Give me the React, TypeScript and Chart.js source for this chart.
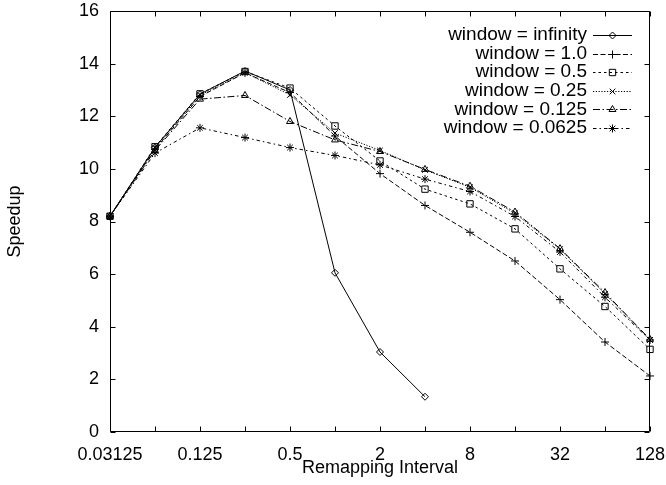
import React, { useEffect, useRef } from "react";
import { Chart, registerables } from "chart.js";
import { drawPoint } from "chart.js/helpers";

Chart.register(...registerables);

const xValues = [0.03125, 0.0625, 0.125, 0.25, 0.5, 1, 2, 4, 8, 16, 32, 64, 128];
const xTickLabels = ["0.03125", "0.125", "0.5", "2", "8", "32", "128"];
const yTicks = [0, 2, 4, 6, 8, 10, 12, 14, 16];

const seriesNames = [
  "window = infinity",
  "window = 1.0",
  "window = 0.5",
  "window = 0.25",
  "window = 0.125",
  "window = 0.0625",
];

const winInfinity = [8.2, 10.82, 12.84, 13.72, 13.0, 6.05, 3.04, 1.34];
const win1_0 = [8.2, 10.75, 12.75, 13.65, 12.9, 11.25, 9.82, 8.61, 7.59, 6.5, 5.03, 3.42, 2.13];
const win0_5 = [8.2, 10.84, 12.85, 13.7, 13.07, 11.63, 10.3, 9.23, 8.67, 7.72, 6.2, 4.77, 3.14];
const win0_25 = [8.2, 10.8, 12.8, 13.66, 12.81, 11.36, 10.7, 9.96, 9.3, 8.31, 6.95, 5.25, 3.5];
const win0_125 = [8.2, 10.7, 12.65, 12.79, 11.8, 11.1, 10.66, 9.98, 9.34, 8.36, 6.97, 5.3, 3.52];
const win0_0625 = [8.2, 10.6, 11.56, 11.19, 10.81, 10.51, 10.15, 9.61, 9.14, 8.19, 6.84, 5.12, 3.5];

const seriesValues = [winInfinity, win1_0, win0_5, win0_25, win0_125, win0_0625];
const pointStyles = ["rectRot", "cross", "rect", "crossRot", "triangle", "star"];
const pointRadii = [3.5, 4, 4.5, 4, 4, 4];
const dashes: number[][] = [[], [5, 2.5], [2.5, 3], [1.2, 1.6], [7, 2.5, 1.5, 2.5], [3.5, 3, 1.5, 3]];

const FONT = "'Liberation Sans', Arial, Helvetica, sans-serif";

const framePlugin = {
  id: "frameTicks",
  beforeDatasetsDraw(chart: any) {
    const { ctx, chartArea: a, scales } = chart;
    const L = Math.round(a.left) + 0.5;
    const R = Math.round(a.right) - 0.5;
    const T = Math.round(a.top) + 0.5;
    const B = Math.round(a.bottom) - 0.5;
    ctx.save();
    ctx.strokeStyle = "#000";
    ctx.lineWidth = 1;
    ctx.setLineDash([]);
    ctx.beginPath();
    ctx.rect(L, T, R - L, B - T);
    const tl = 5;
    xValues.forEach((v) => {
      const px = Math.round(scales.x.getPixelForValue(v)) + 0.5;
      ctx.moveTo(px, B);
      ctx.lineTo(px, B - tl);
      ctx.moveTo(px, T);
      ctx.lineTo(px, T + tl);
    });
    yTicks.forEach((v) => {
      const py = Math.round(scales.y.getPixelForValue(v)) + 0.5;
      ctx.moveTo(L, py);
      ctx.lineTo(L + tl, py);
      ctx.moveTo(R, py);
      ctx.lineTo(R - tl, py);
    });
    ctx.stroke();
    ctx.restore();
  },
  afterDraw(chart: any) {
    const { ctx } = chart;
    ctx.save();
    const textRight = 587;
    const lineL = 593;
    const lineR = 632;
    const y0 = 35;
    const dy = 18.6;
    seriesNames.forEach((name, i) => {
      const y = y0 + i * dy;
      ctx.font = `19px ${FONT}`;
      ctx.fillStyle = "#000";
      ctx.textAlign = "right";
      ctx.textBaseline = "middle";
      ctx.fillText(name, textRight, y);
      ctx.strokeStyle = "#000";
      ctx.lineWidth = 1;
      ctx.setLineDash(dashes[i]);
      ctx.beginPath();
      ctx.moveTo(lineL, Math.round(y) + 0.5);
      ctx.lineTo(lineR, Math.round(y) + 0.5);
      ctx.stroke();
      ctx.setLineDash([]);
      ctx.fillStyle = "rgba(0,0,0,0)";
      drawPoint(
        ctx,
        { pointStyle: pointStyles[i], rotation: 0, radius: pointRadii[i], borderWidth: 1 } as any,
        (lineL + lineR) / 2,
        Math.round(y) + 0.5
      );
    });
    ctx.restore();
  },
};

export default function App() {
  const ref = useRef<HTMLCanvasElement | null>(null);
  useEffect(() => {
    if (!ref.current) return;
    Chart.defaults.font.family = FONT;
    Chart.defaults.color = "#000";
    const datasets = seriesValues.map((vals, i) => ({
      label: seriesNames[i],
      data: vals.map((y, j) => ({ x: xValues[j], y })),
      borderColor: "#000",
      backgroundColor: "rgba(0,0,0,0)",
      borderWidth: 1,
      borderDash: dashes[i],
      pointStyle: pointStyles[i],
      pointRadius: pointRadii[i],
      pointBorderWidth: 1,
      pointBorderColor: "#000",
      pointBackgroundColor: "rgba(0,0,0,0)",
      tension: 0,
      fill: false,
      clip: false as any,
    }));
    const chart = new Chart(ref.current, {
      type: "line",
      data: { datasets },
      plugins: [framePlugin],
      options: {
        animation: false,
        responsive: true,
        maintainAspectRatio: false,
        layout: { padding: { left: 0, top: 11, right: 16, bottom: 0 } },
        plugins: { legend: { display: false }, tooltip: { enabled: false } },
        scales: {
          x: {
            type: "logarithmic",
            min: 0.03125,
            max: 128,
            grid: { display: false, drawTicks: false },
            border: { display: false },
            afterBuildTicks: (scale: any) => {
              scale.ticks = xValues.map((v) => ({ value: v }));
            },
            afterFit: (scale: any) => {
              scale.height = 53;
              scale.paddingLeft = 0;
              scale.paddingRight = 0;
            },
            ticks: {
              autoSkip: false,
              maxRotation: 0,
              minRotation: 0,
              padding: 12,
              font: { size: 18, family: FONT },
              color: "#000",
              callback: (value: any) => {
                const s = String(value);
                return xTickLabels.includes(s) ? s : "";
              },
            },
            title: {
              display: true,
              text: "Remapping Interval",
              font: { size: 18, family: FONT },
              color: "#000",
              padding: { top: 0, bottom: 6 },
            },
          },
          y: {
            type: "linear",
            min: 0,
            max: 16,
            grid: { display: false, drawTicks: false },
            border: { display: false },
            afterFit: (scale: any) => {
              scale.width = 110;
              scale.paddingTop = 0;
              scale.paddingBottom = 0;
            },
            ticks: {
              stepSize: 2,
              padding: 11,
              font: { size: 18, family: FONT },
              color: "#000",
            },
            title: {
              display: true,
              text: "Speedup",
              font: { size: 18, family: FONT },
              color: "#000",
              padding: { top: 4, bottom: 0 },
            },
          },
        },
      },
    });
    return () => chart.destroy();
  }, []);
  return (
    <div style={{ position: "fixed", left: 0, top: 0, width: 666, height: 485, background: "#fff" }}>
      <canvas ref={ref} style={{ display: "block" }} />
    </div>
  );
}
